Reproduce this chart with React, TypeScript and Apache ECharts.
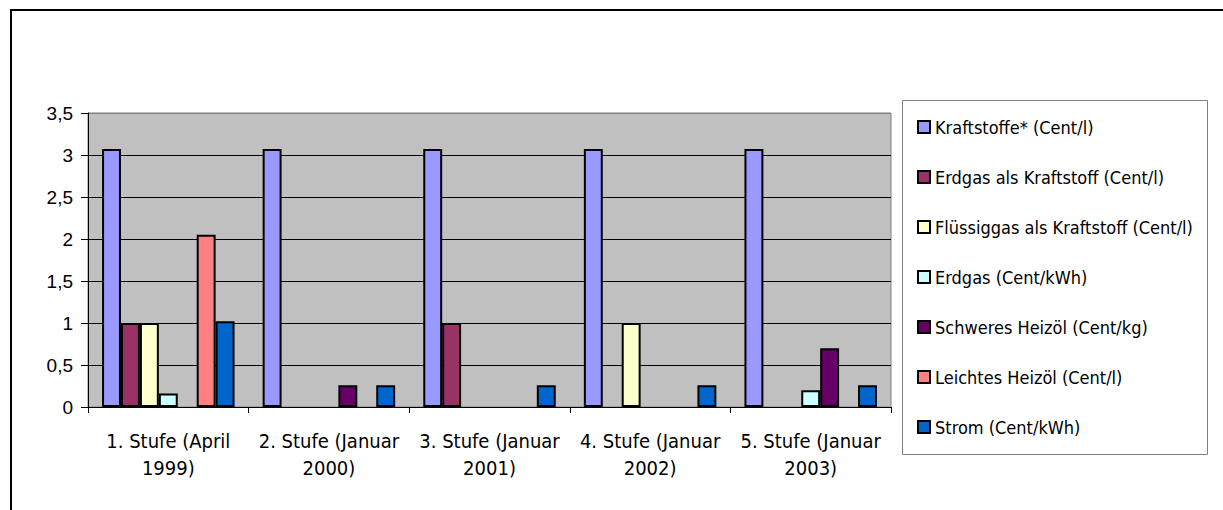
import React, { useEffect, useRef } from "react";
import * as echarts from "echarts";

const categories = [
  "1. Stufe (April\n1999)",
  "2. Stufe (Januar\n2000)",
  "3. Stufe (Januar\n2001)",
  "4. Stufe (Januar\n2002)",
  "5. Stufe (Januar\n2003)",
];

const seriesNames = [
  "Kraftstoffe* (Cent/l)",
  "Erdgas als Kraftstoff (Cent/l)",
  "Flüssiggas als Kraftstoff (Cent/l)",
  "Erdgas (Cent/kWh)",
  "Schweres Heizöl (Cent/kg)",
  "Leichtes Heizöl (Cent/l)",
  "Strom (Cent/kWh)",
];

const seriesColors = ["#9999FF", "#993366", "#FFFFCC", "#CCFFFF", "#660066", "#FF8080", "#0066CC"];

const kraftstoffe = [3.07, 3.07, 3.07, 3.07, 3.07];
const erdgasKraftstoff = [1.0, null, 1.0, null, null];
const fluessiggas = [1.0, null, null, 1.0, null];
const erdgas = [0.16, null, null, null, 0.2];
const schweresHeizoel = [null, 0.26, null, null, 0.7];
const leichtesHeizoel = [2.05, null, null, null, null];
const strom = [1.02, 0.26, 0.26, 0.26, 0.26];

const seriesValues = [kraftstoffe, erdgasKraftstoff, fluessiggas, erdgas, schweresHeizoel, leichtesHeizoel, strom];

const yTicks = [0, 0.5, 1, 1.5, 2, 2.5, 3, 3.5];

const tahomaLike = '"DejaVu Sans Condensed", "DejaVu Sans", sans-serif';
const arialLike = '"Liberation Sans", Arial, sans-serif';

export default function App() {
  const ref = useRef<HTMLDivElement>(null);
  useEffect(() => {
    if (!ref.current) return;
    const chart = echarts.init(ref.current, undefined, { renderer: "svg" });
    chart.setOption({
      animation: false,
      backgroundColor: "#ffffff",
      grid: {
        left: 88,
        right: 332,
        top: 113,
        bottom: 103,
        show: true,
        backgroundColor: "#C0C0C0",
        borderColor: "#808080",
        borderWidth: 1,
      },
      legend: {
        show: true,
        orient: "vertical",
        left: 917,
        top: 117,
        padding: 0,
        itemWidth: 12,
        itemHeight: 12,
        itemGap: 30,
        icon: "rect",
        selectedMode: false,
        textStyle: { fontFamily: tahomaLike, fontSize: 18, lineHeight: 20, color: "#000" },
        data: seriesNames,
      },
      xAxis: {
        type: "category",
        data: categories,
        axisLine: { show: true, lineStyle: { color: "#000", width: 1 } },
        axisTick: { show: true, length: 6, alignWithLabel: false, lineStyle: { color: "#000" } },
        axisLabel: {
          interval: 0,
          margin: 20,
          fontFamily: tahomaLike,
          fontSize: 20,
          lineHeight: 27,
          color: "#000",
          align: "center",
        },
        splitLine: { show: false },
      },
      yAxis: {
        type: "value",
        min: yTicks[0],
        max: yTicks[yTicks.length - 1],
        interval: 0.5,
        axisLine: { show: true, lineStyle: { color: "#000", width: 1 } },
        axisTick: { show: true, length: 7, lineStyle: { color: "#000" } },
        axisLabel: {
          margin: 15,
          fontFamily: arialLike,
          fontSize: 19,
          color: "#000",
          formatter: (v: number) => String(v).replace(".", ","),
        },
        splitLine: {
          show: true,
          lineStyle: {
            color: ["#000", "#000", "#000", "#000", "#000", "#000", "#000", "#808080"],
            width: 1,
          },
        },
      },
      graphic: [
        {
          type: "rect",
          shape: { x: 11, y: 10, width: 1240, height: 540 },
          style: { fill: "none", stroke: "#000", lineWidth: 2 },
          silent: true,
        },
        {
          type: "rect",
          shape: { x: 902.5, y: 100.5, width: 305, height: 354 },
          style: { fill: "none", stroke: "#808080", lineWidth: 1 },
          silent: true,
        },
      ],
      series: seriesNames.map((name, i) => ({
        name,
        type: "bar",
        data: seriesValues[i],
        barGap: "0%",
        barCategoryGap: "17.5%",
        itemStyle: { color: seriesColors[i], borderColor: "#000", borderWidth: 2 },
      })),
    });
    return () => chart.dispose();
  }, []);
  return (
    <div
      ref={ref}
      style={{ position: "absolute", left: 0, top: 0, width: 1223, height: 510, background: "#fff" }}
    />
  );
}
